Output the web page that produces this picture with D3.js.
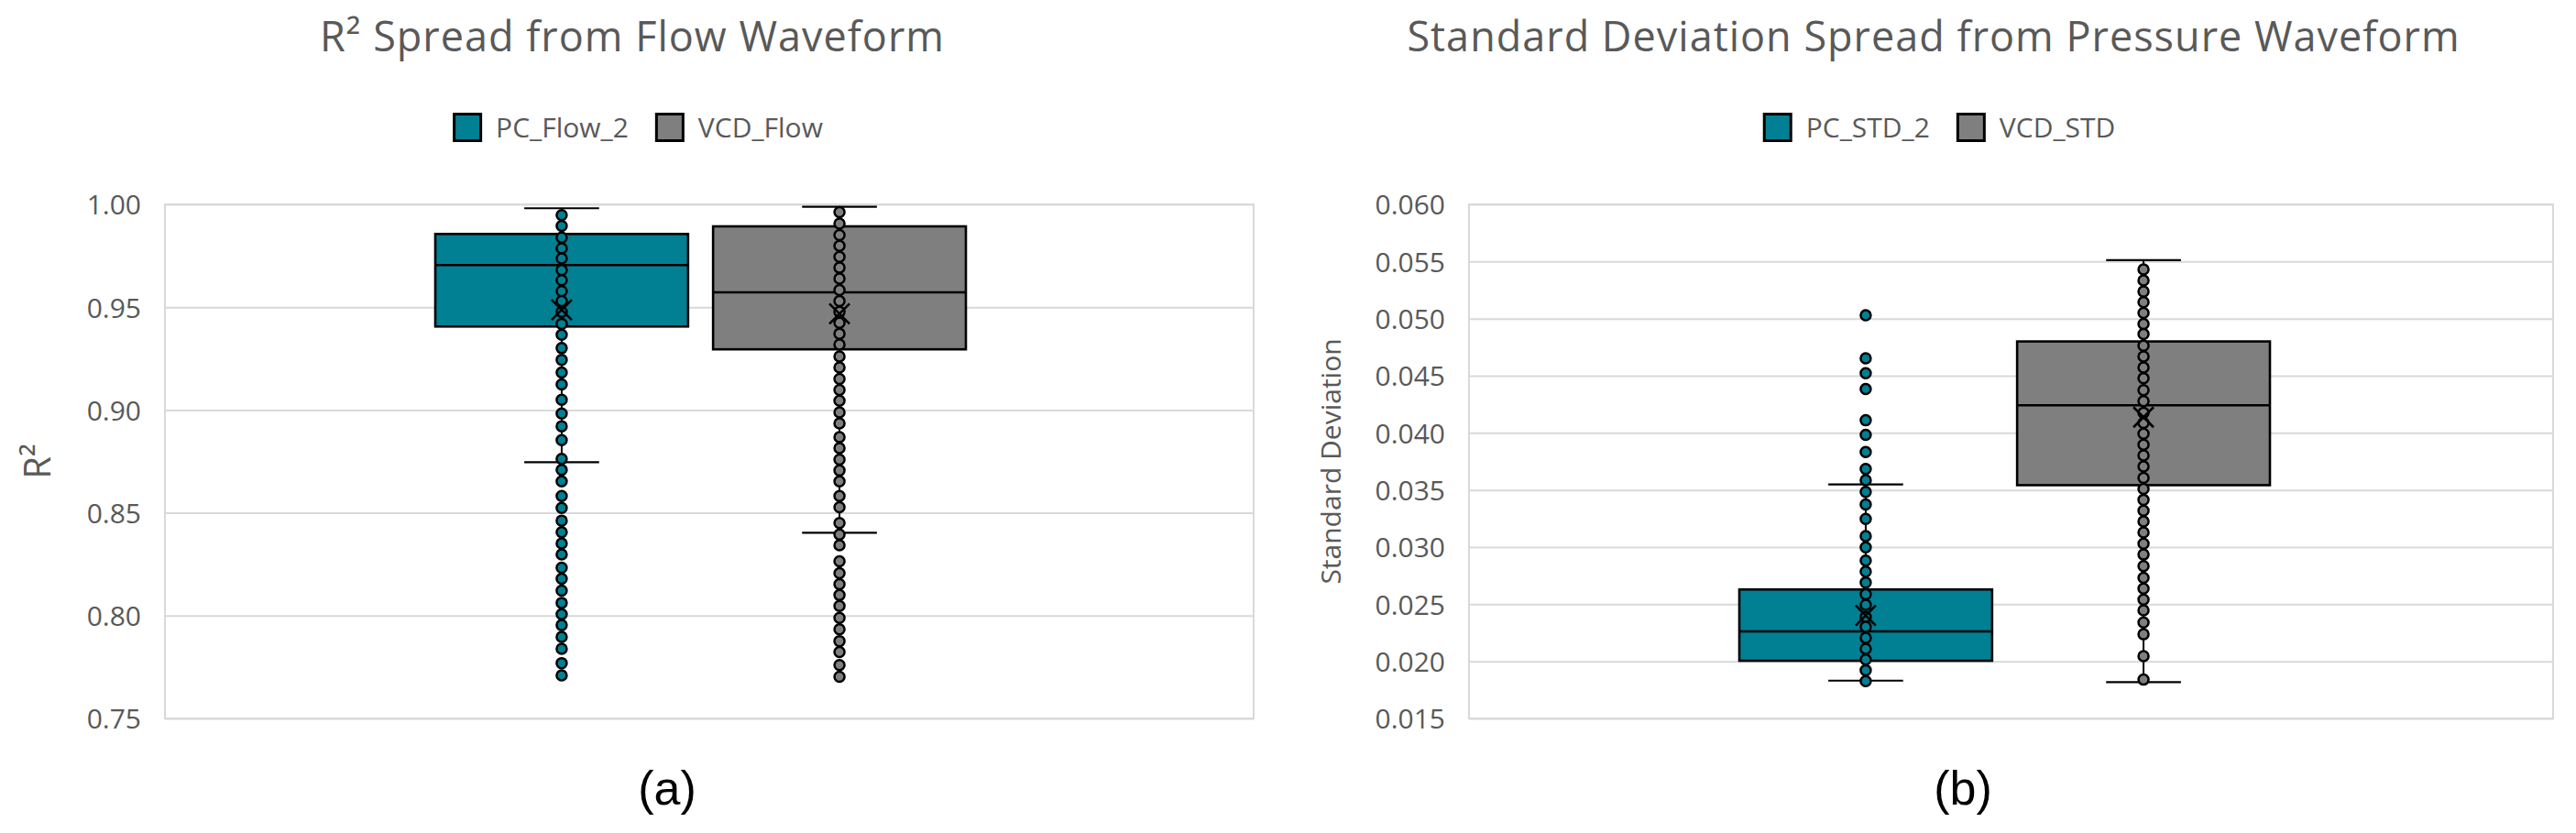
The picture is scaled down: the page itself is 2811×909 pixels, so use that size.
<!DOCTYPE html>
<html>
<head>
<meta charset="utf-8">
<script src="https://cdn.jsdelivr.net/npm/d3@7"></script>
<style>
  html, body { margin: 0; padding: 0; background: #fff; }
  svg { display: block; }
  text { font-family: "Open Sans", "Noto Sans", sans-serif; fill: #595959; }
</style>
</head>
<body>
<svg id="chart" width="2811" height="909"></svg>
<script>
// ---------------- DATA ----------------
// Chart (a): R² from flow waveform
const flowTitle = "R\u00B2 Spread from Flow Waveform";
const flowYLabel = "R\u00B2";
const flowSeries = ["PC_Flow_2", "VCD_Flow"];
const flowTicks = [0.75, 0.80, 0.85, 0.90, 0.95, 1.00];
const flowQ1 = [0.9406, 0.9295];
const flowMedian = [0.9705, 0.9572];
const flowQ3 = [0.9856, 0.9893];
const flowMean = [0.9487, 0.9468];
const flowWhiskerLow = [0.8746, 0.8403];
const flowWhiskerHigh = [0.9981, 0.9988];
const pcFlowPoints = [0.9948, 0.9895, 0.9839, 0.9786, 0.9737, 0.9680, 0.9631, 0.9578, 0.9530, 0.9477,
  0.9419, 0.9366, 0.9301, 0.9244, 0.9182, 0.9124, 0.9050, 0.8983, 0.8921, 0.8854,
  0.8762, 0.8709, 0.8653, 0.8582, 0.8524, 0.8462, 0.8406, 0.8351, 0.8298, 0.8233,
  0.8180, 0.8122, 0.8062, 0.8007, 0.7954, 0.7897, 0.7839, 0.7769, 0.7709];
const vcdFlowPoints = [0.9962, 0.9906, 0.9851, 0.9798, 0.9745, 0.9692, 0.9639, 0.9583, 0.9530, 0.9477,
  0.9424, 0.9371, 0.9318, 0.9260, 0.9207, 0.9151, 0.9098, 0.9045, 0.8988, 0.8935,
  0.8868, 0.8815, 0.8759, 0.8706, 0.8653, 0.8582, 0.8527, 0.8450, 0.8395, 0.8342,
  0.8264, 0.8206, 0.8153, 0.8100, 0.8047, 0.7989, 0.7933, 0.7876, 0.7823, 0.7760, 0.7703];

// Chart (b): standard deviation from pressure waveform
const stdTitle = "Standard Deviation Spread from Pressure Waveform";
const stdYLabel = "Standard Deviation";
const stdSeries = ["PC_STD_2", "VCD_STD"];
const stdTicks = [0.015, 0.020, 0.025, 0.030, 0.035, 0.040, 0.045, 0.050, 0.055, 0.060];
const stdQ1 = [0.02005, 0.03542];
const stdMedian = [0.02262, 0.04241];
const stdQ3 = [0.02629, 0.04800];
const stdMean = [0.02401, 0.04137];
const stdWhiskerLow = [0.01831, 0.01818];
const stdWhiskerHigh = [0.03549, 0.05512];
const pcStdPoints = [0.05030, 0.04652, 0.04522, 0.04383, 0.04110, 0.03983, 0.03833, 0.03684, 0.03586, 0.03484,
  0.03373, 0.03246, 0.03097, 0.02998, 0.02881, 0.02786, 0.02690, 0.02586, 0.02494, 0.02389,
  0.02303, 0.02205, 0.02110, 0.02016, 0.01922, 0.01827];
const vcdStdPoints = [0.05430, 0.05335, 0.05237, 0.05144, 0.05049, 0.04954, 0.04865, 0.04763, 0.04668, 0.04573,
  0.04478, 0.04373, 0.04278, 0.04176, 0.04087, 0.03992, 0.03897, 0.03802, 0.03706, 0.03605,
  0.03510, 0.03414, 0.03319, 0.03224, 0.03129, 0.03030, 0.02935, 0.02833, 0.02732, 0.02637,
  0.02541, 0.02446, 0.02341, 0.02237, 0.02046, 0.01840];

const panelLabels = ["(a)", "(b)"];
const seriesColors = ["#017F93", "#7F7F7F"];

// ---------------- DRAW ----------------
const svg = d3.select("#chart");
svg.append("rect").attr("width", 2811).attr("height", 909).attr("fill", "#fff");

function drawPanel(cfg) {
  const g = svg.append("g");
  const { left, right, top, bottom } = cfg.plot;

  const y = d3.scaleLinear().domain(cfg.domain).range([bottom, top]);
  const x1 = d3.scaleBand().domain(cfg.series)
    .range([left + 295, left + 874]).paddingInner(0.09);

  // gridlines
  g.append("g")
    .attr("transform", `translate(${left},0)`)
    .call(d3.axisLeft(y).tickValues(cfg.ticks).tickSize(-(right - left)).tickFormat(""))
    .call(a => a.select(".domain").remove())
    .call(a => a.selectAll("line").attr("stroke", "#D9D9D9").attr("stroke-width", 2));

  // plot border
  g.append("rect")
    .attr("x", left).attr("y", top)
    .attr("width", right - left).attr("height", bottom - top)
    .attr("fill", "none").attr("stroke", "#D9D9D9").attr("stroke-width", 2);

  // tick labels
  g.append("g")
    .attr("transform", `translate(${left},0)`)
    .call(d3.axisLeft(y).tickValues(cfg.ticks).tickSize(0).tickPadding(26).tickFormat(d3.format(cfg.fmt)))
    .call(a => a.select(".domain").remove())
    .call(a => a.selectAll("text")
      .attr("font-family", "'Open Sans', sans-serif")
      .attr("font-size", 30).attr("fill", "#595959").attr("dy", "0.36em"));

  // y label
  g.append("text")
    .attr("transform", `translate(${cfg.yLabelX},${(top + bottom) / 2}) rotate(-90)`)
    .attr("text-anchor", "middle")
    .attr("font-size", cfg.yLabelSize)
    .text(cfg.yLabel);

  // title
  g.append("text")
    .attr("x", cfg.center).attr("y", 56)
    .attr("text-anchor", "middle")
    .attr("font-size", 45)
    .attr("letter-spacing", "1px")
    .text(cfg.title);

  // legend
  const lg = g.append("g");
  let cursor = 0;
  cfg.series.forEach((s, i) => {
    const item = lg.append("g").attr("transform", `translate(${cursor},0)`);
    item.append("rect").attr("x", 1.5).attr("y", 124.5).attr("width", 29).attr("height", 29)
      .attr("fill", seriesColors[i]).attr("stroke", "#000").attr("stroke-width", 3);
    const t = item.append("text").attr("x", 47).attr("y", 150).attr("font-size", 30).text(s);
    cursor += 47 + t.node().getComputedTextLength() + 29;
  });
  const legendW = cursor - 29;
  lg.attr("transform", `translate(${cfg.legendCenter - legendW / 2},0)`);

  // boxes
  cfg.series.forEach((s, i) => {
    const bx = x1(s), bw = x1.bandwidth(), cx = bx + bw / 2;
    const capHalf = bw * 0.148;
    const bg = g.append("g");
    // whisker stems
    bg.append("line").attr("x1", cx).attr("x2", cx)
      .attr("y1", y(cfg.q3[i])).attr("y2", y(cfg.whiskerHigh[i]))
      .attr("stroke", "#000").attr("stroke-width", 2);
    bg.append("line").attr("x1", cx).attr("x2", cx)
      .attr("y1", y(cfg.q1[i])).attr("y2", y(cfg.whiskerLow[i]))
      .attr("stroke", "#000").attr("stroke-width", 2);
    // caps
    [cfg.whiskerHigh[i], cfg.whiskerLow[i]].forEach(v => {
      bg.append("line").attr("x1", cx - capHalf).attr("x2", cx + capHalf)
        .attr("y1", y(v)).attr("y2", y(v))
        .attr("stroke", "#000").attr("stroke-width", 2.2);
    });
    // box
    bg.append("rect").attr("x", bx).attr("y", y(cfg.q3[i]))
      .attr("width", bw).attr("height", y(cfg.q1[i]) - y(cfg.q3[i]))
      .attr("fill", seriesColors[i]).attr("stroke", "#000").attr("stroke-width", 2.6);
    bg.append("line").attr("x1", bx).attr("x2", bx + bw)
      .attr("y1", y(cfg.median[i])).attr("y2", y(cfg.median[i]))
      .attr("stroke", "#000").attr("stroke-width", 2.4);
    // points
    bg.selectAll("circle").data(cfg.points[i]).join("circle")
      .attr("cx", cx).attr("cy", d => y(d)).attr("r", 5.5)
      .attr("fill", seriesColors[i]).attr("stroke", "#000").attr("stroke-width", 2.5);
    // mean marker
    const my = y(cfg.mean[i]), m = 11;
    bg.append("path")
      .attr("d", `M${cx - m},${my - m}L${cx + m},${my + m}M${cx - m},${my + m}L${cx + m},${my - m}`)
      .attr("stroke", "#000").attr("stroke-width", 2.6).attr("fill", "none");
  });

  // panel label
  svg.append("text")
    .attr("x", cfg.panelX).attr("y", 878)
    .attr("text-anchor", "middle")
    .style("font-family", "'Liberation Sans', Arial, sans-serif")
    .style("fill", "#000")
    .attr("font-size", 52)
    .text(cfg.panelLabel);
}

drawPanel({
  plot: { left: 180, right: 1368, top: 223, bottom: 784 },
  domain: [0.75, 1.00], ticks: flowTicks, fmt: ".2f",
  series: flowSeries, title: flowTitle, yLabel: flowYLabel,
  yLabelX: 55, yLabelSize: 40, center: 690, legendCenter: 696,
  q1: flowQ1, median: flowMedian, q3: flowQ3, mean: flowMean,
  whiskerLow: flowWhiskerLow, whiskerHigh: flowWhiskerHigh,
  points: [pcFlowPoints, vcdFlowPoints],
  panelX: 728, panelLabel: panelLabels[0]
});

drawPanel({
  plot: { left: 1603, right: 2786, top: 223, bottom: 784 },
  domain: [0.015, 0.060], ticks: stdTicks, fmt: ".3f",
  series: stdSeries, title: stdTitle, yLabel: stdYLabel,
  yLabelX: 1463, yLabelSize: 30, center: 2110, legendCenter: 2116,
  q1: stdQ1, median: stdMedian, q3: stdQ3, mean: stdMean,
  whiskerLow: stdWhiskerLow, whiskerHigh: stdWhiskerHigh,
  points: [pcStdPoints, vcdStdPoints],
  panelX: 2142, panelLabel: panelLabels[1]
});
</script>
</body>
</html>
